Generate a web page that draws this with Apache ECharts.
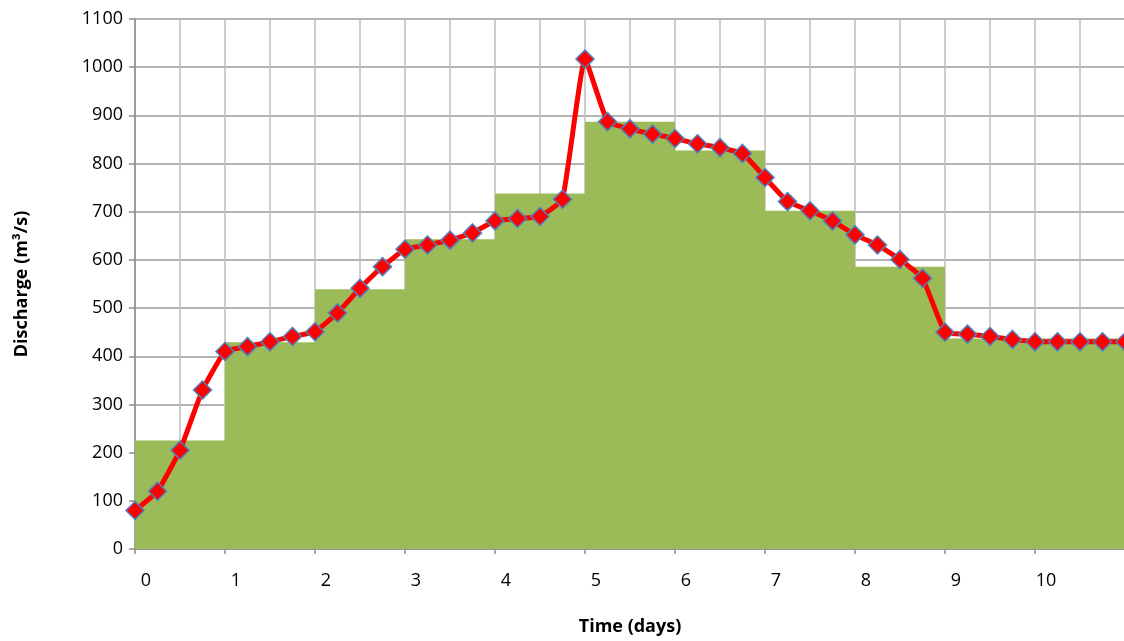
<!DOCTYPE html>
<html>
<head>
<meta charset="utf-8">
<script src="https://cdn.jsdelivr.net/npm/echarts@6/dist/echarts.min.js"></script>
<style>
html,body{margin:0;padding:0;background:#fff;overflow:hidden;}
#chart{width:1128px;height:641px;}
</style>
</head>
<body>
<div id="chart"></div>
<script>
// Time (days) of each discharge observation
const times = [0,0.25,0.5,0.75,1,1.25,1.5,1.75,2,2.25,2.5,2.75,3,3.25,3.5,3.75,4,4.25,4.5,4.75,5,5.25,5.5,5.75,6,6.25,6.5,6.75,7,7.25,7.5,7.75,8,8.25,8.5,8.75,9,9.25,9.5,9.75,10,10.25,10.5,10.75,11];
// Observed discharge (m3/s)
const discharge = [80,120,205,330,410,420,430,441,451,490,541,586,622,631,641,656,681,686,690,726,1017,887,872,861,852,841,833,821,771,721,702,681,652,631,601,562,450,446,441,435,430,430,430,430,430];
// Daily-average step levels (start day of each step)
const stepDays = [0,1,2,3,4,5,6,7,8,9,11];
const stepValues = [225,429,539,643,738,887,827,702,586,437,437];
// Axis tick labels
const xTickLabels = ['0','1','2','3','4','5','6','7','8','9','10'];

const lineData = times.map((t,i)=>[t,discharge[i]]);
const stepData = stepDays.map((d,i)=>[d,stepValues[i]]);

const chart = echarts.init(document.getElementById('chart'));
const font = '"Open Sans", "Noto Sans", sans-serif';
chart.setOption({
  animation:false,
  grid:{left:135,right:0,top:19,bottom:92,containLabel:false},
  xAxis:[{
    type:'value',min:0,max:11,interval:0.5,
    axisLine:{show:false},axisTick:{show:false},axisLabel:{show:false},
    splitLine:{show:true,lineStyle:{color:'#BEBEBE',width:1.5}}
  },{
    type:'value',min:0,max:11,interval:1,position:'bottom',
    name:'Time (days)',nameLocation:'middle',nameGap:69,
    nameTextStyle:{fontFamily:font,fontSize:18,fontWeight:'bold',color:'#000'},
    axisLine:{show:true,lineStyle:{color:'#8C8C8C',width:1.5}},
    axisTick:{show:true,length:5,lineStyle:{color:'#8C8C8C',width:1.5}},
    splitLine:{show:false},
    axisLabel:{
      margin:23,fontFamily:font,fontSize:18,color:'#000',padding:[0,0,0,22],
      formatter:(v)=>{const i=Math.round(v);return (Math.abs(v-i)<1e-6 && i<xTickLabels.length)?xTickLabels[i]:'';}
    }
  }],
  yAxis:{
    type:'value',min:0,max:1100,interval:100,
    name:'Discharge (m³/s)',nameLocation:'middle',nameGap:104,nameRotate:90,
    nameTextStyle:{fontFamily:font,fontSize:18,fontWeight:'bold',color:'#000'},
    axisLine:{show:true,lineStyle:{color:'#8C8C8C',width:1.5}},
    axisTick:{show:true,length:6,lineStyle:{color:'#8C8C8C',width:1.5}},
    axisLabel:{margin:12,fontFamily:font,fontSize:18,color:'#000',formatter:(v)=>String(v)},
    splitLine:{show:true,lineStyle:{color:'#9A9A9A',width:1.5}}
  },
  series:[{
    type:'line',xAxisIndex:0,data:stepData,step:'end',
    symbol:'none',lineStyle:{width:0},
    areaStyle:{color:'#9BBB59',opacity:1},z:2
  },{
    type:'line',xAxisIndex:0,data:lineData,smooth:0.12,
    lineStyle:{color:'#FF0000',width:5},
    symbol:'diamond',symbolSize:18,
    itemStyle:{color:'#FF0000',borderColor:'#4F81BD',borderWidth:1.5},
    z:3
  }]
});
</script>
</body>
</html>
